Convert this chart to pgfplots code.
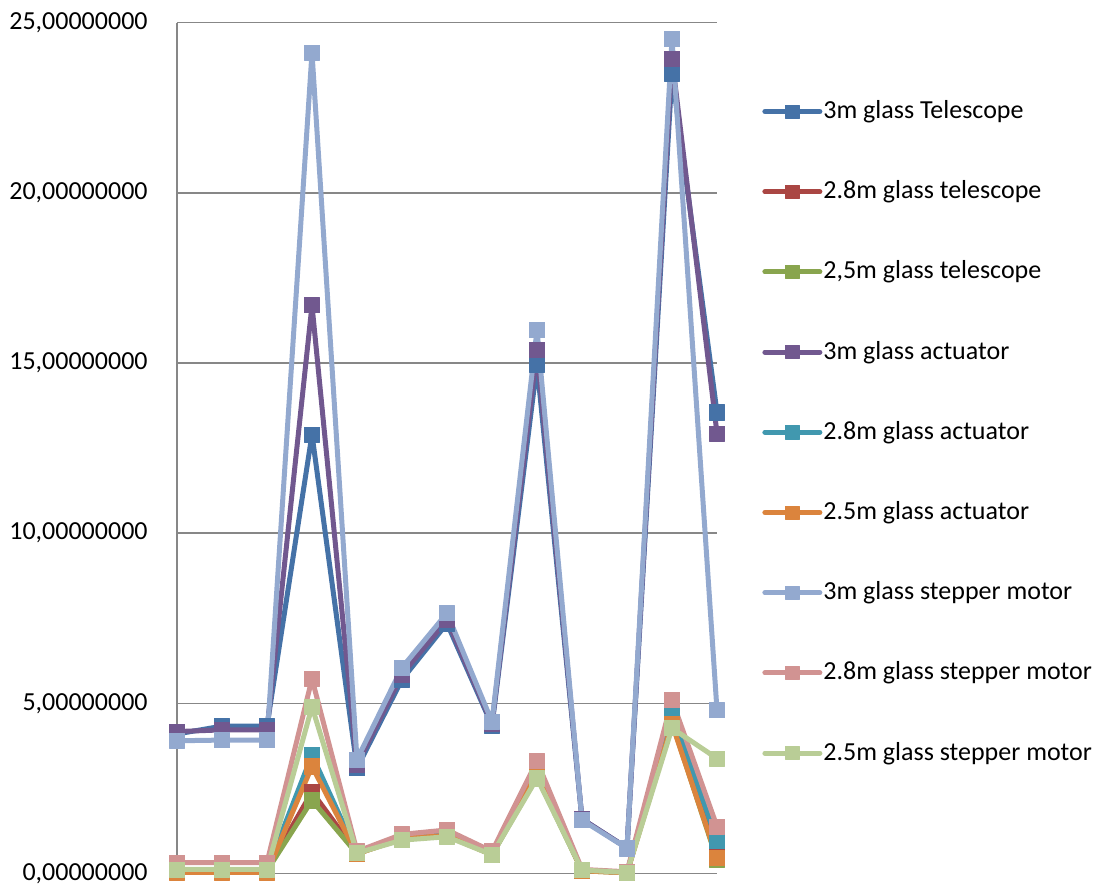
\documentclass[border=0pt]{standalone}
\usepackage{pgfplots}
\pgfplotsset{compat=1.18}
\usepackage{pgfplotstable}
\usepackage{fontspec}
\setmainfont{Carlito}

\definecolor{cA}{HTML}{4572A7}
\definecolor{cB}{HTML}{AA4643}
\definecolor{cC}{HTML}{89A54E}
\definecolor{cD}{HTML}{71588F}
\definecolor{cE}{HTML}{4198AF}
\definecolor{cF}{HTML}{DB843D}
\definecolor{cG}{HTML}{93A9CF}
\definecolor{cH}{HTML}{D19392}
\definecolor{cI}{HTML}{B9CD96}
\definecolor{gridgray}{HTML}{878787}

% columns: a = 3m telescope, b = 2.8m telescope, c = 2.5m telescope,
% d..f = actuators, g..i = stepper motors
\pgfplotstableread{
x  a      b     c     d      e     f     g      h     i
0  4.10   0.10  0.08  4.17   0.10  0.03  3.90   0.32  0.12
1  4.33   0.10  0.08  4.22   0.10  0.03  3.92   0.32  0.12
2  4.33   0.10  0.08  4.22   0.10  0.03  3.92   0.32  0.12
3  12.90  2.40  2.15  16.70  3.48  3.15  24.12  5.72  4.90
4  3.10   0.60  0.58  3.20   0.60  0.58  3.35   0.65  0.60
5  5.70   1.05  1.02  5.85   1.05  1.03  6.05   1.15  0.98
6  7.35   1.15  1.12  7.45   1.15  1.12  7.65   1.28  1.08
7  4.35   0.55  0.55  4.40   0.55  0.55  4.46   0.65  0.55
8  14.95  2.95  2.85  15.38  3.10  3.00  15.97  3.30  2.80
9  1.60   0.10  0.08  1.60   0.10  0.08  1.57   0.12  0.10
10 0.75   0.03  0.02  0.75   0.03  0.02  0.74   0.05  0.03
11 23.50  4.60  4.45  23.95  4.80  4.40  24.52  5.10  4.27
12 13.55  0.70  0.40  12.93  0.95  0.45  4.80   1.38  3.38
}\datatable

\pgfplotsset{
  ser/.style={color=#1, line width=2.5pt, line join=round, mark=square*,
    mark size=3.8pt, mark options={solid, fill=#1, draw=#1, line width=0.3pt}},
}

\begin{document}
\fontsize{13}{15.6}\selectfont
\begin{tikzpicture}
\begin{axis}[
  at={(0,0)}, anchor=south west,
  scale only axis,
  width=270pt, height=425.4pt,
  xmin=0, xmax=12, ymin=0, ymax=25,
  clip=false,
  axis x line*=bottom, axis y line*=left,
  axis line style={draw=gridgray, line width=0.8pt, -},
  xtick=\empty,
  ytick={0,5,10,15,20,25},
  ymajorgrids,
  major grid style={draw=gridgray, line width=0.8pt},
  major tick length=0pt,
  tick style={draw=none},
  /pgf/number format/assume math mode=true,
  yticklabel style={/pgf/number format/.cd, fixed, fixed zerofill,
    precision=8, use comma, /tikz/.cd, inner sep=0pt, xshift=-14.5pt,
    font=\fontsize{13}{15.6}\selectfont},
  legend style={at={(axis description cs:1.0833,0.9114)}, anchor=north west,
    draw=none, fill=none, inner sep=0pt, row sep=27.1pt, column sep=0.5pt,
    font=\fontsize{13}{15.6}\selectfont,
    nodes={inner sep=0pt, text height=10pt, text depth=3pt}},
  legend cell align=left,
  legend image code/.code={
    \draw[mark repeat=2, mark phase=2, line cap=round, mark size=3.3pt]
      plot coordinates {(0pt,0pt) (13.75pt,0pt) (27.5pt,0pt)};},
]
\addplot[ser=cA] table[x=x, y=a] {\datatable};
\addlegendentry{3m glass Telescope}
\addplot[ser=cB] table[x=x, y=b] {\datatable};
\addlegendentry{2.8m glass telescope}
\addplot[ser=cC] table[x=x, y=c] {\datatable};
\addlegendentry{2,5m glass telescope}
\addplot[ser=cD] table[x=x, y=d] {\datatable};
\addlegendentry{3m glass actuator}
\addplot[ser=cE] table[x=x, y=e] {\datatable};
\addlegendentry{2.8m glass actuator}
\addplot[ser=cF] table[x=x, y=f] {\datatable};
\addlegendentry{2.5m glass actuator}
\addplot[ser=cG] table[x=x, y=g] {\datatable};
\addlegendentry{3m glass stepper motor}
\addplot[ser=cH] table[x=x, y=h] {\datatable};
\addlegendentry{2.8m glass stepper motor}
\addplot[ser=cI] table[x=x, y=i] {\datatable};
\addlegendentry{2.5m glass stepper motor}
\end{axis}
\path[use as bounding box] (-88.5pt,-7.25pt) rectangle (466pt,436.75pt);
\end{tikzpicture}
\end{document}
